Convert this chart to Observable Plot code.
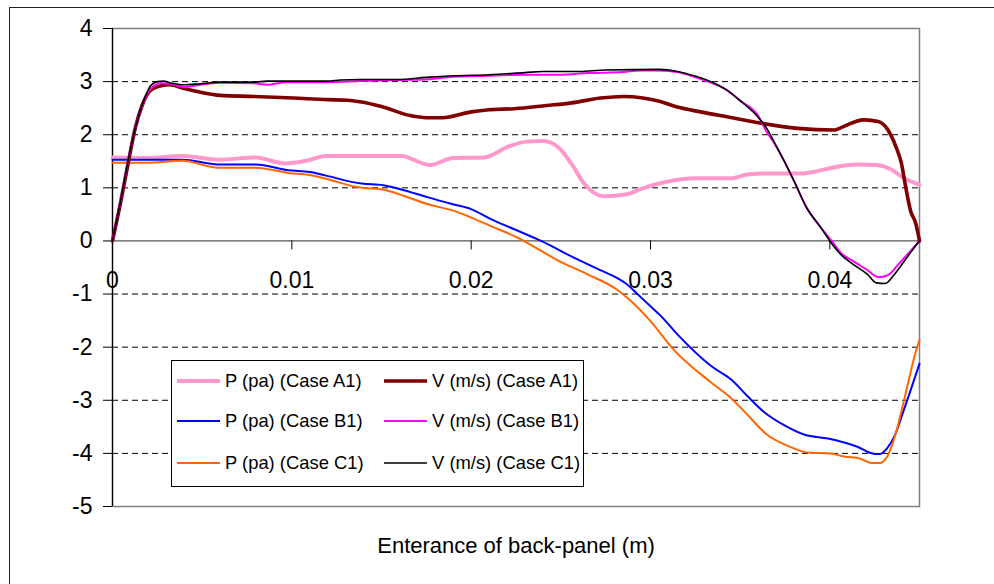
<!DOCTYPE html>
<html>
<head>
<meta charset="utf-8">
<script src="https://cdn.jsdelivr.net/npm/d3@7"></script>
<script src="https://cdn.jsdelivr.net/npm/@observablehq/plot@0.6"></script>
<style>
  html, body { margin: 0; padding: 0; background: #fff; overflow: hidden; }
  #wrap { position: relative; width: 994px; height: 584px; font-family: "Liberation Sans", Arial, sans-serif; }
  #outer { position: absolute; left: 9px; top: 7px; width: 1000px; height: 600px; border: 1px solid #222; }
  #chart { position: absolute; left: 0; top: 0; }
  #legend { position: absolute; left: 171px; top: 360px; width: 411px; height: 125px;
            border: 1px solid #000; background: #fff; }
  .item { position: absolute; height: 24px; display: flex; align-items: center; white-space: nowrap;
          font-size: 18.4px; color: #000; }
  .item svg { margin-right: 5px; }
</style>
</head>
<body>
<div id="wrap">
  <div id="outer"></div>
  <div id="chart"></div>
  <div id="legend"></div>
</div>
<script>
// Position along the back-panel entrance (m) paired with the measured value
const pA1 = [[0, 1.57], [0.002, 1.56], [0.0039, 1.60], [0.0059, 1.53], [0.008, 1.57], [0.0096, 1.46],
  [0.0108, 1.51], [0.0119, 1.60], [0.0161, 1.60], [0.0177, 1.43], [0.019, 1.56], [0.0207, 1.57],
  [0.0221, 1.78], [0.0231, 1.87], [0.024, 1.88], [0.0249, 1.75], [0.0256, 1.45], [0.0263, 1.08],
  [0.0274, 0.84], [0.0287, 0.88], [0.0294, 0.97], [0.0306, 1.09], [0.0317, 1.16], [0.0326, 1.18],
  [0.0345, 1.18], [0.0354, 1.25], [0.0365, 1.27], [0.0384, 1.27], [0.0391, 1.30], [0.040, 1.37],
  [0.0415, 1.44], [0.0426, 1.43], [0.0434, 1.35], [0.0441, 1.19], [0.045, 1.06]];

const pB1 = [[0, 1.53], [0.0039, 1.53], [0.0059, 1.44], [0.008, 1.44], [0.0098, 1.33], [0.011, 1.30],
  [0.0119, 1.23], [0.0139, 1.08], [0.0151, 1.05], [0.0161, 0.97], [0.0176, 0.82], [0.019, 0.69],
  [0.020, 0.60], [0.0211, 0.41], [0.0224, 0.22], [0.0239, 0], [0.0257, -0.31], [0.0272, -0.55],
  [0.0281, -0.69], [0.0287, -0.82], [0.0293, -1.01], [0.030, -1.23], [0.0306, -1.42], [0.0315, -1.76],
  [0.0334, -2.36], [0.0345, -2.61], [0.0354, -2.92], [0.0364, -3.24], [0.0374, -3.46], [0.0386, -3.65],
  [0.0399, -3.72], [0.0415, -3.87], [0.0425, -4.01], [0.0428, -4.01], [0.0432, -3.90], [0.0436, -3.68],
  [0.0441, -3.21], [0.045, -2.31]];

const pC1 = [[0, 1.47], [0.0019, 1.47], [0.0039, 1.51], [0.0059, 1.38], [0.008, 1.38], [0.0098, 1.28],
  [0.011, 1.24], [0.0119, 1.17], [0.0137, 1.01], [0.0152, 0.96], [0.0159, 0.89], [0.0176, 0.69],
  [0.019, 0.57], [0.020, 0.44], [0.0211, 0.28], [0.0226, 0.06], [0.0231, -0.03], [0.0248, -0.36],
  [0.0265, -0.63], [0.0281, -0.91], [0.0287, -1.07], [0.030, -1.51], [0.0313, -2.05], [0.0334, -2.67],
  [0.0345, -2.96], [0.0354, -3.27], [0.0365, -3.65], [0.0376, -3.85], [0.0389, -3.99], [0.040, -4.0],
  [0.0408, -4.06], [0.0417, -4.10], [0.0423, -4.18], [0.0428, -4.18], [0.0432, -4.06], [0.0436, -3.71],
  [0.0443, -2.77], [0.0447, -2.20], [0.045, -1.86]];

const vA1 = [[0, 0], [0.00045, 0.72], [0.0009, 1.51], [0.00128, 2.14], [0.00165, 2.55], [0.0021, 2.83],
  [0.0027, 2.92], [0.0032, 2.94], [0.004, 2.87], [0.0049, 2.80], [0.006, 2.74], [0.0079, 2.72],
  [0.0101, 2.69], [0.012, 2.66], [0.0131, 2.65], [0.0138, 2.62], [0.015, 2.53], [0.0166, 2.36],
  [0.0175, 2.32], [0.0184, 2.32], [0.020, 2.43], [0.021, 2.47], [0.0224, 2.49], [0.0242, 2.55],
  [0.0256, 2.60], [0.0272, 2.69], [0.0285, 2.72], [0.0305, 2.63], [0.0315, 2.52], [0.0328, 2.43],
  [0.0347, 2.31], [0.0361, 2.22], [0.0382, 2.12], [0.0403, 2.09], [0.0406, 2.13], [0.0419, 2.28],
  [0.0427, 2.25], [0.0432, 2.11], [0.0437, 1.76], [0.044, 1.45], [0.0442, 1.07], [0.0445, 0.57],
  [0.0448, 0.32], [0.045, 0]];

const vB1 = [[0, 0], [0.00045, 0.75], [0.0009, 1.57], [0.00138, 2.26], [0.00175, 2.62], [0.0021, 2.86],
  [0.0027, 2.97], [0.0032, 2.96], [0.004, 2.90], [0.0049, 2.94], [0.006, 2.98], [0.0079, 2.97],
  [0.0086, 2.94], [0.0097, 2.99], [0.012, 2.99], [0.0138, 3.01], [0.016, 3.03], [0.0175, 3.04],
  [0.019, 3.09], [0.021, 3.11], [0.023, 3.13], [0.025, 3.13], [0.0265, 3.16], [0.0285, 3.18],
  [0.0293, 3.21], [0.0305, 3.21], [0.0315, 3.18], [0.0328, 3.05], [0.0343, 2.83], [0.035, 2.64],
  [0.036, 2.36], [0.0365, 2.04], [0.0369, 1.84], [0.0374, 1.54], [0.038, 1.13], [0.0387, 0.63],
  [0.0395, 0.25], [0.0401, 0], [0.0406, -0.22], [0.0413, -0.38], [0.0421, -0.55], [0.0427, -0.68],
  [0.0432, -0.65], [0.0439, -0.41], [0.045, 0]];

const vC1 = [[0, 0], [0.00045, 0.75], [0.0009, 1.57], [0.00138, 2.26], [0.00175, 2.64], [0.00212, 2.92],
  [0.0025, 3.0], [0.00286, 3.01], [0.0032, 2.98], [0.004, 2.94], [0.0049, 2.96], [0.006, 2.99],
  [0.0079, 2.99], [0.0086, 3.01], [0.012, 3.01], [0.0127, 3.03], [0.0138, 3.04], [0.016, 3.04],
  [0.0175, 3.08], [0.019, 3.11], [0.021, 3.13], [0.023, 3.17], [0.024, 3.19], [0.026, 3.19],
  [0.0275, 3.22], [0.0305, 3.23], [0.0315, 3.19], [0.0322, 3.13], [0.0332, 3.02], [0.0343, 2.83],
  [0.035, 2.64], [0.036, 2.33], [0.0365, 2.11], [0.0369, 1.86], [0.0374, 1.54], [0.038, 1.13],
  [0.0387, 0.63], [0.0395, 0.25], [0.040, 0], [0.0406, -0.25], [0.0413, -0.44], [0.0421, -0.63],
  [0.0426, -0.79], [0.0431, -0.80], [0.0436, -0.63], [0.0443, -0.31], [0.045, 0]];

const xTicks = [0, 0.01, 0.02, 0.03, 0.04];
const yTicks = [-5, -4, -3, -2, -1, 0, 1, 2, 3, 4];
const gridLevels = [-4, -3, -2, -1, 1, 2, 3];
const xTitle = "Enterance of back-panel (m)";

const series = [
  {name: "P (pa) (Case A1)", data: pA1, color: "#FF99CC", width: 4},
  {name: "P (pa) (Case B1)", data: pB1, color: "#0000FF", width: 2},
  {name: "P (pa) (Case C1)", data: pC1, color: "#FF6600", width: 2},
  {name: "V (m/s) (Case A1)", data: vA1, color: "#800000", width: 3.6},
  {name: "V (m/s) (Case B1)", data: vB1, color: "#FF00FF", width: 2},
  {name: "V (m/s) (Case C1)", data: vC1, color: "#000000", width: 1.6}
];

const font = "Liberation Sans, Arial, sans-serif";

const chart = Plot.plot({
  width: 994,
  height: 584,
  marginLeft: 112,
  marginRight: 75,
  marginTop: 28,
  marginBottom: 78,
  style: {fontFamily: font, background: "transparent", color: "#000"},
  x: {domain: [0, 0.045], axis: null},
  y: {domain: [-5, 4]},
  marks: [
    Plot.ruleY(gridLevels, {stroke: "#000", strokeWidth: 1, strokeDasharray: "6,4"}),
    Plot.frame({stroke: "#808080", strokeWidth: 1.5}),
    Plot.ruleY([0], {stroke: "#555", strokeWidth: 1.2}),
    // x ticks hang below the zero line
    Plot.ruleX(xTicks, {x: d => d, y1: () => 0, y2: () => 0, insetBottom: -9, stroke: "#000"}),
    Plot.text(xTicks, {x: d => d, y: () => 0, text: d => String(d), dy: 40, fontSize: 23, fill: "#000"}),
    Plot.axisY(yTicks, {tickSize: 9, tickPadding: 11, fontSize: 23, tickFormat: d => String(d),
                        label: null, color: "#000"}),
    Plot.ruleX([0], {stroke: "#000", strokeWidth: 1.2}),
    ...series.map(s => Plot.line(s.data, {x: d => d[0], y: d => d[1], stroke: s.color,
                                          strokeWidth: s.width, curve: "monotone-x"})),
    Plot.text([xTitle], {frameAnchor: "bottom", lineAnchor: "middle", dy: 39, fontSize: 22, fill: "#000"})
  ]
});
document.getElementById("chart").appendChild(chart);

// Legend: pressure series in the first column, velocity series in the second
const legend = document.getElementById("legend");
const rowsY = [7.5, 48, 90];
const colX = [5, 212];
series.forEach((s, i) => {
  const col = s.name.startsWith("P") ? 0 : 1;
  const row = i % 3;
  const item = document.createElement("div");
  item.className = "item";
  item.style.left = colX[col] + "px";
  item.style.top = rowsY[row] + "px";
  item.innerHTML = `<svg width="43" height="8"><line x1="0" x2="43" y1="4" y2="4" stroke="${s.color}" stroke-width="${Math.min(s.width, 4)}"/></svg><span>${s.name}</span>`;
  legend.appendChild(item);
});
</script>
</body>
</html>
